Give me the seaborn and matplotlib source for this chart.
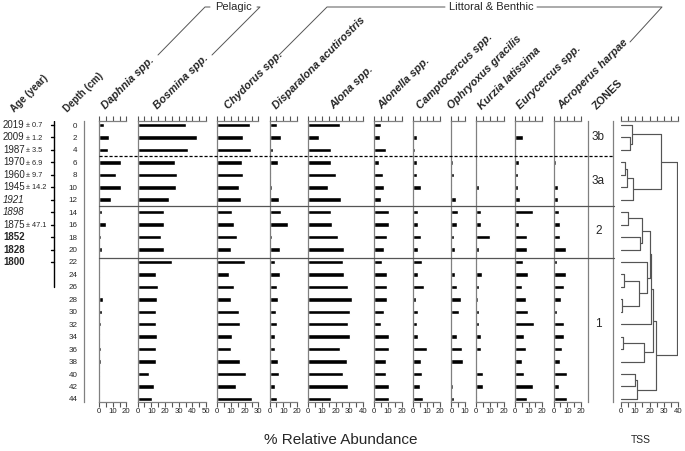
import numpy as np
import pandas as pd
import seaborn as sns
import matplotlib.pyplot as plt
from matplotlib.lines import Line2D
from matplotlib.ticker import MultipleLocator
import matplotlib.transforms as mtransforms

# ---- data ----
depth = list(range(0, 46, 2))

daphnia = [3.9, 7.3, 6.8, 16.0, 12.7, 15.8, 9.0, 2.4, 4.9, 1.2, 2.0, 0, 0.5, 0, 2.7, 2.4, 1.5, 0.7, 1.5, 1.2, 0.7, 0, 0]
bosmina = [35.1, 43.2, 37.0, 27.3, 29.0, 27.8, 22.7, 19.0, 19.0, 17.3, 19.0, 24.9, 13.2, 14.8, 14.1, 13.2, 13.2, 14.1, 13.2, 13.7, 8.5, 12.0, 10.5]
chydorus = [23.9, 19.0, 24.6, 18.0, 19.0, 16.1, 17.6, 10.7, 12.2, 14.4, 10.2, 20.0, 8.3, 12.2, 10.0, 16.1, 16.8, 10.7, 9.8, 16.6, 21.2, 13.7, 25.6]
disparalona = [5.4, 8.5, 2.4, 5.9, 0.7, 1.5, 6.6, 8.3, 13.7, 1.5, 7.8, 4.1, 7.3, 5.4, 5.9, 4.6, 5.4, 4.1, 4.1, 5.9, 6.6, 4.1, 5.4]
alona = [23.2, 8.0, 16.3, 16.3, 20.2, 14.6, 24.1, 16.3, 17.3, 21.7, 25.9, 25.4, 26.3, 29.0, 32.2, 30.5, 29.0, 30.5, 23.2, 28.0, 25.4, 29.0, 16.8]
alonella = [4.9, 4.4, 8.3, 3.4, 6.1, 6.8, 4.9, 11.0, 11.0, 9.5, 7.1, 5.4, 9.3, 9.5, 9.0, 7.3, 5.1, 11.0, 11.0, 8.3, 8.8, 11.0, 10.5]
camptocercus = [1.0, 3.2, 1.7, 3.2, 2.9, 6.3, 0.7, 3.7, 3.7, 6.1, 4.1, 6.8, 3.9, 8.0, 2.4, 4.1, 3.2, 3.7, 10.7, 6.1, 6.6, 4.9, 7.6]
ophryoxus = [0, 0, 0, 1.5, 2.2, 0.7, 3.4, 5.1, 3.9, 2.2, 2.9, 0.7, 2.9, 4.1, 7.3, 5.9, 0, 3.9, 7.6, 8.3, 0, 1.2, 2.2]
kurzia = [0, 0, 0, 0.3, 0, 2.0, 0.3, 3.7, 3.7, 10.2, 1.7, 0.7, 4.1, 2.0, 1.5, 2.0, 2.0, 3.7, 3.7, 0, 4.6, 4.9, 0.7]
eurycercus = [0, 5.6, 0.7, 2.9, 2.0, 2.0, 3.9, 13.2, 3.2, 9.0, 9.0, 5.6, 9.5, 5.1, 8.3, 9.5, 14.1, 6.3, 7.8, 5.1, 6.3, 13.2, 9.0]
acroperus = [0, 0, 0, 2.0, 0.5, 3.2, 3.2, 3.7, 5.1, 5.1, 8.8, 2.4, 9.0, 7.6, 5.4, 2.2, 7.3, 8.0, 6.3, 5.1, 9.5, 3.9, 9.5]

taxa = ["Daphnia spp.", "Bosmina spp.", "Chydorus spp.", "Disparalona acutirostris",
        "Alona spp.", "Alonella spp.", "Camptocercus spp.", "Ophryoxus gracilis",
        "Kurzia latissima", "Eurycercus spp.", "Acroperus harpae"]
values = [daphnia, bosmina, chydorus, disparalona, alona, alonella, camptocercus,
          ophryoxus, kurzia, eurycercus, acroperus]
xmax = [20, 50, 30, 20, 40, 20, 20, 10, 20, 20, 20]

age_depth = [0, 2, 4, 6, 8, 10, 12, 14, 16, 18, 20, 22]
age_year = ["2019", "2009", "1987", "1970", "1960", "1945", "1921", "1898", "1875", "1852", "1828", "1800"]
age_err = ["0.7", "1.2", "3.5", "6.9", "9.7", "14.2", "", "", "47.1", "", "", ""]
age_style = ["n", "n", "n", "n", "n", "n", "i", "i", "n", "b", "b", "b"]

zone_names = ["3b", "3a", "2", "1"]
zone_mid = [2.0, 9.0, 17.0, 32.0]
zone_bounds = [5.0, 13.0, 21.3]

# (height, left, right); leaves are sample depths
tss_tree = (39.1,
            (28.1,
             (7.5, 0, (6.4, 2, 4)),
             (8.7, (4.1, (3.0, 6, 8), 10), 12)),
            (24.7,
             (22.4,
              (21.3,
               (20.1,
                (14.9, (5.3, 14, 16), (13.7, 18, 20)),
                (18.5, 22, (12.8, (2.5, 24, 26), (1.1, 28, 30)))),
               32),
              (16.2, (1.4, 34, 36), 38)),
             (11.0, (9.8, 40, 42), 44)))

df = pd.DataFrame({"depth": depth})
for name, vals in zip(taxa, values):
    df[name] = vals

# ---- layout (pixels) ----
W, H = 685, 451
sns.set_style("white")
plt.rcParams['font.family'] = ['Liberation Sans', 'DejaVu Sans']
fig = plt.figure(figsize=(W / 100, H / 100), dpi=100)

TOP, BOT = 121.0, 401.7
YLIM = (44.45, -0.65)
PX = 1.37
GREY = '#808080'
label_x = [106, 158, 229, 277, 334, 382, 421, 452, 482, 521, 562]


def rect(x0, w):
    return [x0 / W, 1 - BOT / H, w / W, (BOT - TOP) / H]


def style_ruler(ax, xm, step_lab=10):
    ax.set_xlim(0, xm)
    ax.set_ylim(*YLIM)
    for s in ['left', 'top', 'bottom']:
        ax.spines[s].set_color(GREY)
        ax.spines[s].set_linewidth(0.9)
    ax.spines['right'].set_visible(False)
    ax.xaxis.set_major_locator(MultipleLocator(step_lab))
    ax.xaxis.set_minor_locator(MultipleLocator(5))
    ax.tick_params(axis='x', which='both', top=True, bottom=True, direction='out',
                   length=3.6, width=0.8, color='#555555', labelsize=5.6, pad=1,
                   labelcolor='#222222')
    ax.set_yticks([])
    ax.set_xlabel('')
    ax.set_ylabel('')


def rot_label(xp, yp, s, **kw):
    fig.text(xp / W, 1 - yp / H, s, rotation=45, rotation_mode='anchor',
             ha='left', va='baseline', **kw)


x = 99.0
first_ax = None
for name, xm, lx in zip(taxa, xmax, label_x):
    ax = fig.add_axes(rect(x, xm * PX))
    sns.barplot(data=df, x=name, y="depth", orient='h', native_scale=True,
                color='black', saturation=1, width=0.36, errorbar=None, ax=ax)
    style_ruler(ax, xm)
    rot_label(lx, 110, name, fontsize=7.9, fontweight='bold', fontstyle='italic')
    if first_ax is None:
        first_ax = ax
    x += xm * PX + 11.2

# zones column
axz = fig.add_axes(rect(588, 25))
axz.set_xlim(0, 1)
axz.set_ylim(*YLIM)
axz.set_xticks([])
axz.set_yticks([])
for s in ['top', 'bottom']:
    axz.spines[s].set_visible(False)
for s in ['left', 'right']:
    axz.spines[s].set_color(GREY)
    axz.spines[s].set_linewidth(0.9)
for zn, zm in zip(zone_names, zone_mid):
    axz.text(0.42, zm, zn, ha='center', va='center', fontsize=8.5)
rot_label(597, 110, "ZONES", fontsize=7.8, fontweight='bold')

# zone boundaries across all panels
trans = mtransforms.blended_transform_factory(fig.transFigure, first_ax.transData)
for i, zb in enumerate(zone_bounds):
    ls = (0, (2.5, 1.5)) if i == 0 else '-'
    col = 'black' if i == 0 else '#555555'
    fig.add_artist(Line2D([99 / W, 614 / W], [zb, zb], transform=trans,
                          color=col, lw=0.9, ls=ls))

# dendrogram (TSS)
axd = fig.add_axes(rect(620.7, 57.6))
style_ruler(axd, 40)
axd.spines['left'].set_visible(False)


def draw(node):
    if isinstance(node, int):
        return float(node), 0.0
    h, l, r = node
    yl, hl = draw(l)
    yr, hr = draw(r)
    kw = dict(color='#555555', lw=0.85)
    axd.plot([hl, h], [yl, yl], **kw)
    axd.plot([hr, h], [yr, yr], **kw)
    axd.plot([h, h], [yl, yr], **kw)
    return (yl + yr) / 2, h


draw(tss_tree)
axd.set_ylim(*YLIM)

# depth axis
axdp = fig.add_axes(rect(84.3, 1))
axdp.set_ylim(*YLIM)
axdp.set_xticks([])
for s in ['top', 'bottom', 'right']:
    axdp.spines[s].set_visible(False)
axdp.spines['left'].set_color(GREY)
axdp.spines['left'].set_linewidth(0.9)
axdp.yaxis.set_major_locator(MultipleLocator(2))
axdp.yaxis.set_minor_locator(MultipleLocator(1))
axdp.tick_params(axis='y', which='major', direction='out', length=3.5, width=0.8,
                 color='#555555', labelsize=5.8, pad=1.5)
axdp.tick_params(axis='y', which='minor', direction='out', length=2, width=0.6, color='#555555')
rot_label(68, 113, "Depth (cm)", fontsize=7, fontweight='bold')

# age axis
axa = fig.add_axes([0, 1 - BOT / H, 60 / W, (BOT - TOP) / H])
axa.set_xlim(0, 60)
axa.set_ylim(*YLIM)
axa.axis('off')
axa.plot([54, 54], [-0.65, 26], color='black', lw=1.0)
for d, yr, er, st in zip(age_depth, age_year, age_err, age_style):
    axa.plot([50.5, 54], [d, d], color='black', lw=1.0)
    axa.text(3, d, yr, ha='left', va='center', fontsize=7,
             fontstyle='italic' if st == 'i' else 'normal',
             fontweight='bold' if st == 'b' else 'normal')
    if er:
        axa.text(26, d + 0.1, "\u00b1 " + er, ha='left', va='center', fontsize=5.3)
rot_label(15, 113, "Age (year)", fontsize=7, fontweight='bold')


# group brackets
def fline(xs, ys):
    fig.add_artist(Line2D([v / W for v in xs], [1 - v / H for v in ys],
                          color='#555555', lw=0.7))


fline([158, 205, 210], [55, 7, 7])
fline([257, 260, 212], [7, 7, 55])
fig.text(233 / W, 1 - 7 / H, "Pelagic", ha='center', va='center', fontsize=8)
fline([279, 327, 445], [55, 7, 7])
fline([537, 662, 630], [7, 7, 42])
fig.text(491 / W, 1 - 7 / H, "Littoral & Benthic", ha='center', va='center', fontsize=8)

fig.text(341 / W, 1 - 440 / H, "% Relative Abundance", ha='center', va='center', fontsize=11)
fig.text(641 / W, 1 - 440 / H, "TSS", ha='center', va='center', fontsize=7.5)

fig.savefig("out.png", dpi=100)
